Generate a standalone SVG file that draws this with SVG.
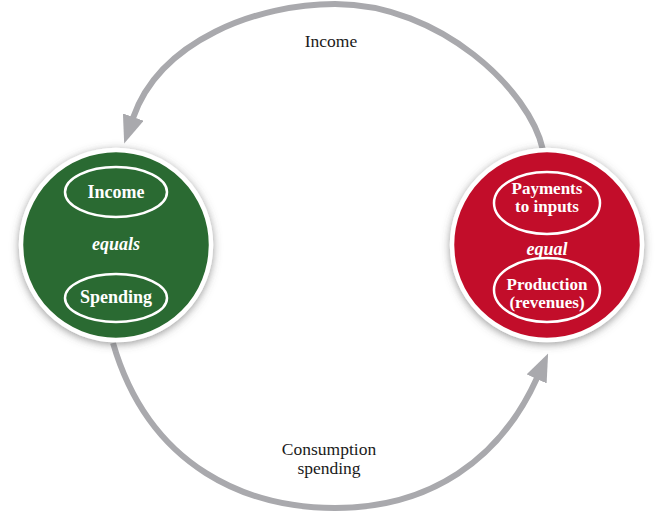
<svg xmlns="http://www.w3.org/2000/svg" width="664" height="512" viewBox="0 0 664 512">
<style>
.flow{fill:none;stroke:#a9a9ad;stroke-width:6}
.ring{stroke:#ffffff;stroke-width:4.5}
.inner{fill:none;stroke:#ffffff;stroke-width:2.5}
.t{font-family:"Liberation Serif","Times New Roman",serif;font-weight:bold;font-size:18px;fill:#ffffff;text-anchor:middle}
.t2{font-size:17px}
.it{font-style:italic}
.lbl{font-family:"Liberation Serif","Times New Roman",serif;font-size:17.5px;fill:#1a1a1a;text-anchor:middle}
</style>
<defs>
<marker id="ah" viewBox="0 0 28 22" refX="1" refY="11" markerWidth="28" markerHeight="22" markerUnits="userSpaceOnUse" orient="auto">
<path d="M0,0 L28,11 L0,22 z" fill="#a9a9ad"/>
</marker>
<filter id="sh" x="-20%" y="-20%" width="140%" height="140%">
<feDropShadow dx="0" dy="2" stdDeviation="4" flood-color="#555555" flood-opacity="0.6"/>
</filter>
</defs>
<g id="connectors">
<path class="flow" d="M543,150 C530,90 440,4 335,4 C258,4 160,40 133,118" marker-end="url(#ah)"/>
<path class="flow" d="M113,343 C150,470 250,508 335,508 C430,508 500,460 537,378" marker-end="url(#ah)"/>
</g>
<g id="node-household">
<circle cx="116" cy="245" r="95" fill="#2b6a30" class="ring" filter="url(#sh)"/>
<ellipse class="inner" cx="116" cy="192" rx="51" ry="25"/>
<ellipse class="inner" cx="116" cy="298" rx="51" ry="24"/>
<text class="t" x="116" y="198">Income</text>
<text class="t it" x="116" y="250">equals</text>
<text class="t" x="116" y="303">Spending</text>
</g>
<g id="node-firm">
<circle cx="547" cy="245" r="95" fill="#c2102a" class="ring" filter="url(#sh)"/>
<ellipse class="inner" cx="547" cy="203" rx="53" ry="31"/>
<ellipse class="inner" cx="547" cy="290" rx="53" ry="32"/>
<text class="t t2" x="547" y="194">Payments</text>
<text class="t t2" x="547" y="212">to inputs</text>
<text class="t it" x="547" y="255">equal</text>
<text class="t t2" x="547" y="290">Production</text>
<text class="t t2" x="547" y="308">(revenues)</text>
</g>
<g id="labels">
<text class="lbl" x="331" y="47">Income</text>
<text class="lbl" x="329" y="455">Consumption</text>
<text class="lbl" x="329" y="474">spending</text>
</g>
</svg>
